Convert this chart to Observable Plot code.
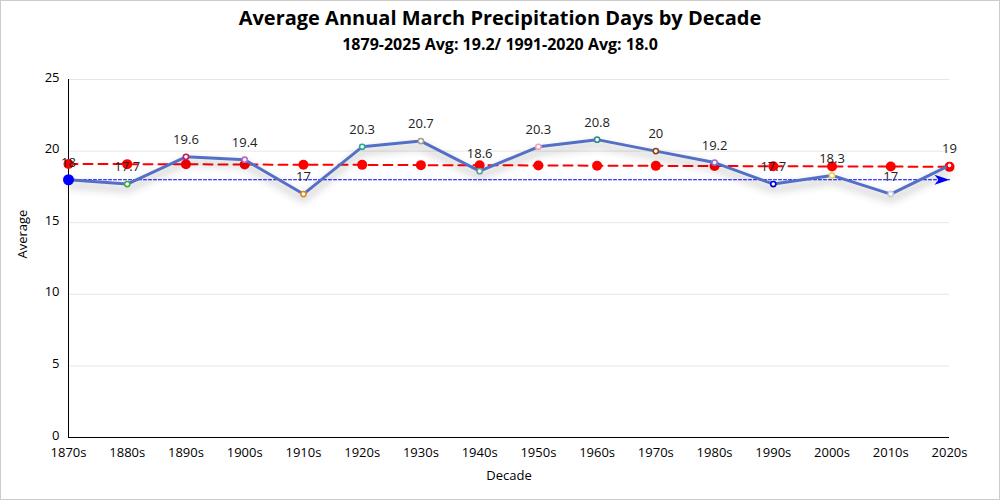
<!DOCTYPE html>
<html>
<head>
<meta charset="utf-8">
<script src="https://cdn.jsdelivr.net/npm/d3@7"></script>
<script src="https://cdn.jsdelivr.net/npm/@observablehq/plot@0.6"></script>
<style>
  html, body { margin: 0; padding: 0; background: #fff; }
  #wrap { position: relative; width: 998px; height: 498px; border: 1px solid #ccc; overflow: hidden; font-family: "Open Sans", "Noto Sans", sans-serif; }
  #title { position: absolute; top: 3px; left: 0; width: 998px; text-align: center; font-size: 20px; font-weight: bold; color: #000; }
  #subtitle { position: absolute; top: 32px; left: 0; width: 998px; text-align: center; font-size: 16px; font-weight: bold; color: #000; }
  #chart { position: absolute; top: 59px; left: -1px; width: 1000px; }
  #chart svg { max-width: none !important; }
</style>
</head>
<body>
<div id="wrap">
  <div id="title">Average Annual March Precipitation Days by Decade</div>
  <div id="subtitle">1879-2025 Avg: 19.2/ 1991-2020 Avg: 18.0</div>
  <div id="chart"></div>
</div>
<script>
const decades = ["1870s","1880s","1890s","1900s","1910s","1920s","1930s","1940s","1950s","1960s","1970s","1980s","1990s","2000s","2010s","2020s"];
const averages = [18, 17.7, 19.6, 19.4, 17, 20.3, 20.7, 18.6, 20.3, 20.8, 20, 19.2, 17.7, 18.3, 17, 19];
const trend = [19.1, 19.09, 19.08, 19.06, 19.05, 19.04, 19.02, 19.01, 19.0, 18.98, 18.97, 18.96, 18.94, 18.93, 18.92, 18.9];
const markerColors = ["#0000ff","#3cb043","#c2185b","#ba68c8","#e08a1e","#26a69a","#9e9e9e","#5f9ea0","#f0a8b8","#2e8b8b","#8b4513","#9370db","#0000cd","#e6d84e","#c8c8dc","#ff0000"];
const normalAvg = 18.0;
const yTicks = [0, 5, 10, 15, 20, 25];

const data = decades.map((d, i) => ({i, decade: d, avg: averages[i], trend: trend[i], color: markerColors[i]}));
const last = decades.length - 1;
const normalLine = [{i: 0, v: normalAvg}, {i: last, v: normalAvg}];
const xTicks = decades.map((d, i) => i);

const arrowSymbol = {
  draw(ctx, size) {
    ctx.moveTo(0, 0);
    ctx.lineTo(-15, -5);
    ctx.lineTo(-11, 0);
    ctx.lineTo(-15, 5);
    ctx.closePath();
  }
};

const chart = Plot.plot({
  width: 1000,
  height: 440,
  marginTop: 19,
  marginBottom: 63,
  marginLeft: 68,
  marginRight: 51,
  style: {fontFamily: "'Open Sans', 'Noto Sans', sans-serif", fontSize: "13px", color: "#000", background: "transparent"},
  x: {type: "linear", domain: [0, last], label: null},
  y: {domain: [0, 25], label: null},
  marks: [
    Plot.gridY(yTicks, {stroke: "#e6e6e6", strokeOpacity: 1}),
    Plot.ruleX([0], {y1: 0, y2: 25, stroke: "#000", strokeWidth: 1}),
    Plot.ruleY([0], {stroke: "#000", strokeWidth: 1}),
    Plot.axisY(yTicks, {tickSize: 0, tickPadding: 9, fontSize: 13, label: null, dy: -2}),
    Plot.axisX(xTicks, {tickSize: 0, tickPadding: 10, fontSize: 13, label: null, tickFormat: i => decades[i]}),
    Plot.text(["Average"], {frameAnchor: "left", dx: -46, rotate: -90, fontSize: 13}),
    Plot.text(["Decade"], {frameAnchor: "bottom", dy: 42, fontSize: 13}),
    Plot.line(normalLine, {x: "i", y: "v", stroke: "#0000ff", strokeWidth: 1, strokeDasharray: "3,2"}),
    Plot.dot([normalLine[1]], {x: "i", y: "v", symbol: arrowSymbol, fill: "#0000ff", stroke: "none", r: 5}),
    Plot.line(data, {x: "i", y: "trend", stroke: "#ff0000", strokeWidth: 2, strokeDasharray: "9,6"}),
    Plot.dot(data, {x: "i", y: "trend", fill: "#ff0000", r: 5}),
    Plot.line(data, {x: "i", y: "avg", stroke: "#5470c6", strokeWidth: 3}),
    Plot.dot(data.slice(1), {x: "i", y: "avg", stroke: "color", fill: "#fff", r: 2.6, strokeWidth: 1.6}),
    Plot.dot([data[0]], {x: "i", y: "avg", fill: "#0000ff", r: 5.5}),
    Plot.text(data, {x: "i", y: "avg", text: d => String(d.avg), dy: -17, fontSize: 13, fill: "#222"})
  ]
});

d3.select(chart).selectAll('path[stroke="#5470c6"]').style("filter", "drop-shadow(0px 5px 4px rgba(0,0,0,0.35))");
d3.select(chart).selectAll('g[stroke="#5470c6"]').style("filter", "drop-shadow(0px 5px 4px rgba(0,0,0,0.35))");
document.getElementById("chart").appendChild(chart);
</script>
</body>
</html>
